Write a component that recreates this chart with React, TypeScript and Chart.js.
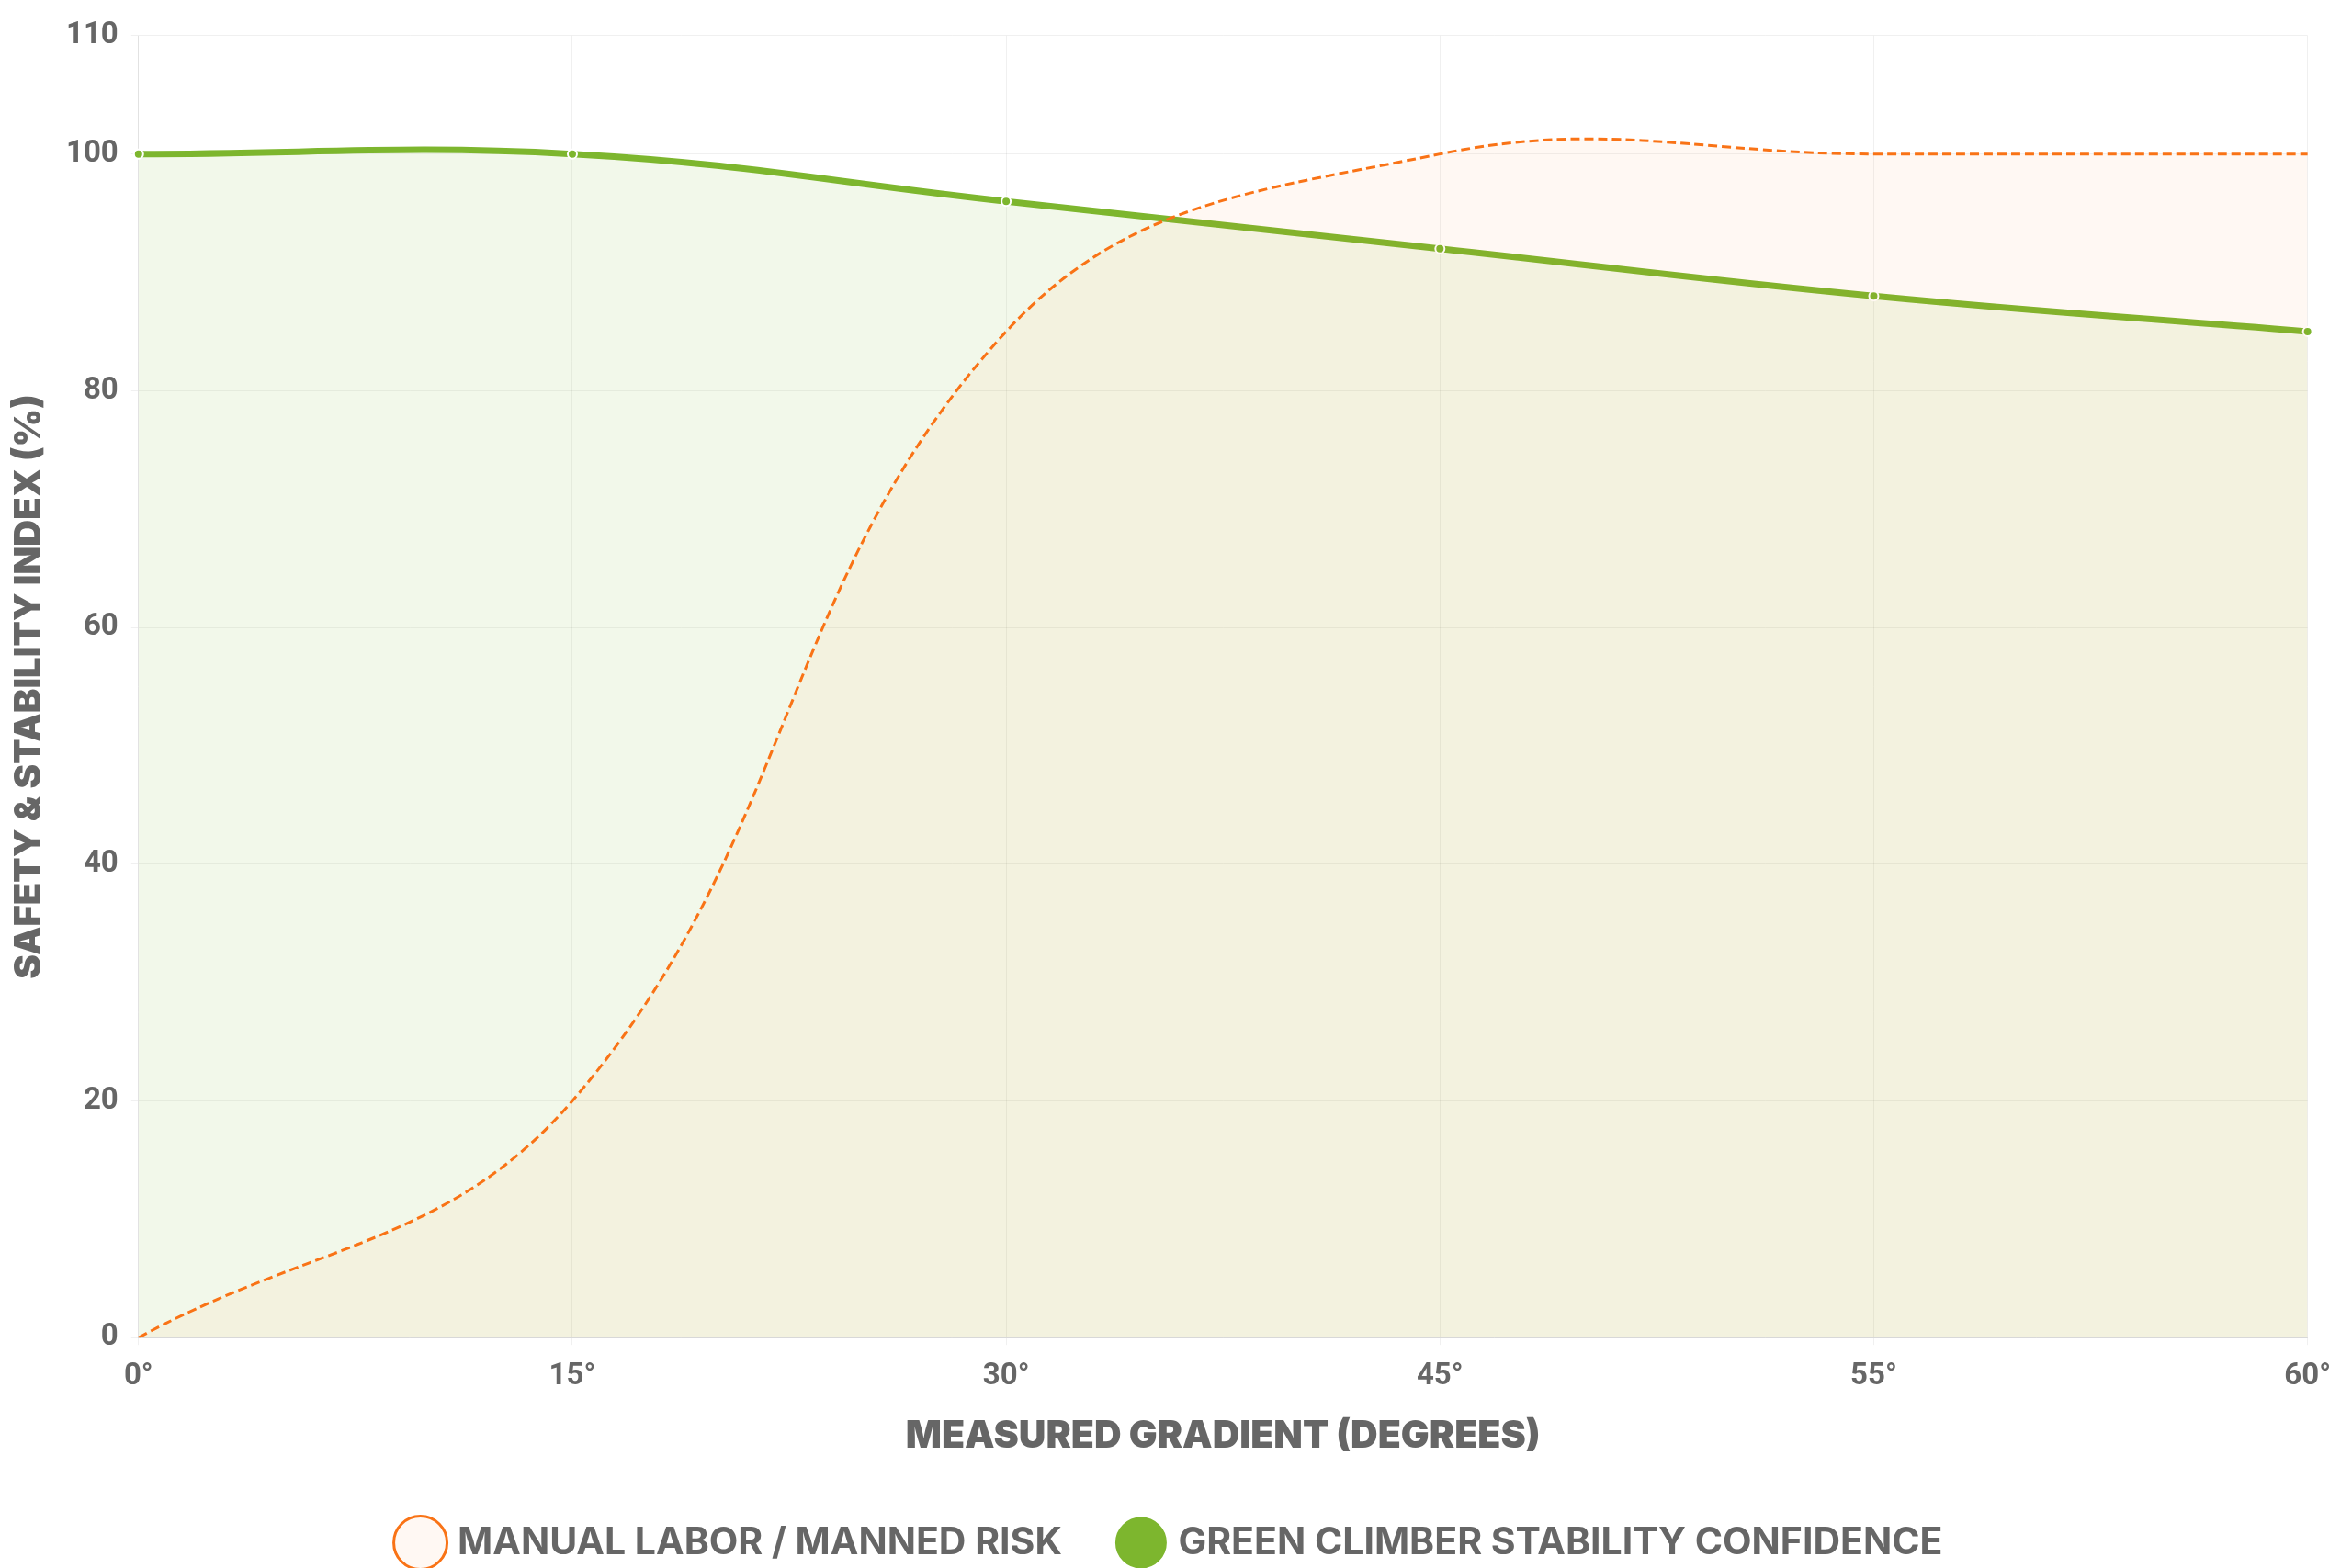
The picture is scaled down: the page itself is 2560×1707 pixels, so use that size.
import React, { useEffect, useRef } from 'react';
import { Chart, registerables } from 'chart.js';

Chart.register(...registerables);

const gradients = ['0°', '15°', '30°', '45°', '55°', '60°'];
const manualRisk = [0, 20, 85, 100, 100, 100];
const climberConfidence = [100, 100, 96, 92, 88, 85];

const App: React.FC = () => {
  const chartRef = useRef<HTMLCanvasElement>(null);
  const chartInstance = useRef<Chart | null>(null);

  useEffect(() => {
    if (!chartRef.current) return;
    const ctx = chartRef.current.getContext('2d');
    if (!ctx) return;

    if (chartInstance.current) {
      chartInstance.current.destroy();
      chartInstance.current = null;
    }

    const colors = {
      orange: 'rgb(249, 115, 22)',
      orangeFill: 'rgba(249, 115, 22, 0.05)',
      green: 'rgb(125, 182, 46)',
      greenFill: 'rgba(125, 182, 46, 0.1)',
      text: '#666666',
      grid: 'rgba(0, 0, 0, 0.06)'
    };

    chartInstance.current = new Chart(ctx, {
      type: 'line',
      data: {
        labels: gradients,
        datasets: [
          {
            label: 'MANUAL LABOR / MANNED RISK',
            data: manualRisk,
            borderColor: colors.orange,
            backgroundColor: colors.orangeFill,
            borderWidth: 3,
            borderDash: [10, 5],
            fill: true,
            tension: 0.4,
            pointRadius: 0,
            pointBorderWidth: 3
          },
          {
            label: 'GREEN CLIMBER STABILITY CONFIDENCE',
            data: climberConfidence,
            borderColor: colors.green,
            backgroundColor: colors.greenFill,
            borderWidth: 7,
            fill: true,
            tension: 0.4,
            pointRadius: 5,
            pointBackgroundColor: colors.green,
            pointBorderColor: '#ffffff',
            pointBorderWidth: 2
          }
        ]
      },
      options: {
        animation: false,
        responsive: true,
        maintainAspectRatio: false,
        layout: { padding: { top: 0, right: 8 } },
        plugins: {
          legend: {
            position: 'bottom',
            labels: {
              usePointStyle: true,
              color: colors.text,
              padding: 66,
              font: { family: 'Inter', size: 41, weight: 'bold' }
            }
          },
          tooltip: { enabled: false }
        },
        scales: {
          x: {
            grid: { color: colors.grid },
            border: { color: 'rgba(0,0,0,0.1)' },
            ticks: {
              color: colors.text,
              padding: 15,
              font: { family: 'Roboto', size: 33, weight: 'bold' }
            },
            title: {
              display: true,
              text: 'MEASURED GRADIENT (DEGREES)',
              color: colors.text,
              padding: { top: 5, bottom: 5 },
              font: { family: 'Inter', size: 41, weight: 900 }
            }
          },
          y: {
            min: 0,
            max: 110,
            grid: { color: colors.grid },
            border: { color: 'rgba(0,0,0,0.06)' },
            ticks: {
              stepSize: 20,
              color: colors.text,
              padding: 14,
              font: { family: 'Roboto', size: 33, weight: 'bold' }
            },
            title: {
              display: true,
              text: 'SAFETY & STABILITY INDEX (%)',
              color: colors.text,
              padding: { top: 0, bottom: 2 },
              font: { family: 'Inter', size: 40, weight: 900 }
            }
          }
        }
      }
    });

    return () => {
      if (chartInstance.current) {
        chartInstance.current.destroy();
        chartInstance.current = null;
      }
    };
  }, []);

  return (
    <div style={{ position: 'relative', width: '100%', height: '1705px', marginTop: '-3px' }}>
      <canvas ref={chartRef}></canvas>
    </div>
  );
};

export default App;
